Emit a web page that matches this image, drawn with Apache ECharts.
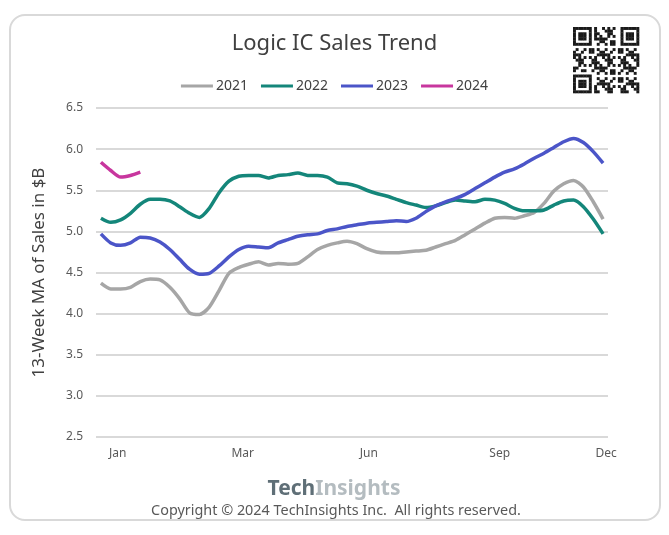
<!DOCTYPE html>
<html><head><meta charset="utf-8">
<script src="https://cdn.jsdelivr.net/npm/echarts@6/dist/echarts.min.js"></script>
<style>html,body{margin:0;padding:0;background:#fff}#c{width:669px;height:535px}</style>
</head><body><div id="c"></div>
<script>
// ---- data (weekly 13-week moving average, $B) ----
const weeks = Array.from({length: 52}, (_, i) => i); // week index 0..51
const monthLabels = ['Jan', 'Mar', 'Jun', 'Sep', 'Dec'];
const monthTickPos = [1.7, 14.4, 27.2, 40.5, 51.3];
const yTicks = [2.5, 3.0, 3.5, 4.0, 4.5, 5.0, 5.5, 6.0, 6.5];

const s2021 = [4.37,4.30,4.30,4.32,4.39,4.42,4.41,4.32,4.18,4.01,3.99,4.08,4.28,4.49,4.56,4.60,4.63,4.59,4.61,4.60,4.61,4.69,4.78,4.83,4.86,4.88,4.85,4.79,4.75,4.74,4.74,4.75,4.76,4.77,4.81,4.85,4.89,4.96,5.03,5.10,5.16,5.17,5.16,5.19,5.23,5.34,5.49,5.58,5.62,5.54,5.36,5.15];
const s2022 = [5.16,5.11,5.14,5.22,5.33,5.39,5.39,5.37,5.30,5.22,5.17,5.28,5.47,5.61,5.67,5.68,5.68,5.65,5.68,5.69,5.71,5.68,5.68,5.66,5.59,5.58,5.55,5.50,5.46,5.43,5.39,5.35,5.32,5.29,5.31,5.35,5.38,5.37,5.36,5.39,5.38,5.34,5.28,5.25,5.25,5.26,5.32,5.37,5.38,5.30,5.15,4.97];
const s2023 = [4.97,4.86,4.83,4.86,4.93,4.92,4.87,4.78,4.66,4.54,4.48,4.49,4.58,4.69,4.78,4.82,4.81,4.80,4.86,4.90,4.94,4.96,4.97,5.01,5.03,5.06,5.08,5.10,5.11,5.12,5.13,5.12,5.16,5.24,5.31,5.36,5.40,5.45,5.52,5.59,5.66,5.72,5.76,5.82,5.89,5.95,6.02,6.09,6.13,6.08,5.97,5.83];
const s2024 = [5.84,5.74,5.66,5.68,5.72];

const seriesNames = ['2021', '2022', '2023', '2024'];
const seriesColors = ['#a6a6a6', '#14867a', '#4b55c8', '#c8369e'];
const seriesData = [s2021, s2022, s2023, s2024];

// ---- decorative QR-like mark ----
function qrRects(x0, y0, n, size) {
  const m = size / n, out = [];
  const finder = (r, c, fr, fc) => {
    const dr = r - fr, dc = c - fc;
    if (dr < 0 || dr > 6 || dc < 0 || dc > 6) return null;
    if (dr === 0 || dr === 6 || dc === 0 || dc === 6) return 1;
    if (dr >= 2 && dr <= 4 && dc >= 2 && dc <= 4) return 1;
    return 0;
  };
  for (let r = 0; r < n; r++) for (let c = 0; c < n; c++) {
    let v = finder(r, c, 0, 0);
    if (v === null) v = finder(r, c, 0, n - 7);
    if (v === null) v = finder(r, c, n - 7, 0);
    if (v === null) {
      if ((r === 7 && c < 8) || (c === 7 && r < 8) || (r === 7 && c >= n - 8) || (c === n - 8 && r < 8) || (r === n - 8 && c < 8) || (c === 7 && r >= n - 8)) v = 0;
      else v = ((r * 31 + c * 17 + r * c * 7) % 11) < 5 ? 1 : 0;
    }
    if (v) out.push({type: 'rect', shape: {x: x0 + c * m, y: y0 + r * m, width: m + 0.3, height: m + 0.3}, style: {fill: '#1a1a1a'}, silent: true});
  }
  return out;
}

const chart = echarts.init(document.getElementById('c'), null, {renderer: 'canvas'});
const fontMain = '"Noto Sans", "Open Sans", sans-serif';

chart.setOption({
  backgroundColor: '#ffffff',
  animation: false,
  textStyle: {fontFamily: fontMain},
  title: [
    {text: 'Logic IC Sales Trend', left: 'center', top: 28, textStyle: {fontSize: 22, fontWeight: 'normal', color: '#404040', fontFamily: fontMain}},
    {text: '{a|Tech}{b|Insights}', left: 329, textAlign: 'center', top: 474,
      textStyle: {rich: {a: {fontSize: 21, fontWeight: 'bold', color: '#5f6f77', fontFamily: fontMain}, b: {fontSize: 21, fontWeight: 'bold', color: '#b4bcc0', fontFamily: fontMain}}}},
    {text: 'Copyright © 2024 TechInsights Inc.  All rights reserved.', left: 331, textAlign: 'center', top: 499,
      textStyle: {fontSize: 14.4, fontWeight: 'normal', color: '#595959', fontFamily: fontMain}}
  ],
  legend: {
    top: 74, left: 'center', itemWidth: 32, itemHeight: 3, itemGap: 13,
    icon: 'rect',
    textStyle: {fontSize: 14, color: '#404040', padding: [0, 0, 0, -2]},
    data: seriesNames
  },
  grid: {left: 96, right: 61, top: 108, bottom: 98},
  xAxis: {
    type: 'value', min: -0.5, max: 51.5,
    axisLine: {show: false}, axisTick: {show: false}, splitLine: {show: false},
    axisLabel: {
      customValues: monthTickPos, margin: 11, color: '#595959', fontSize: 12,
      formatter: v => { const k = monthTickPos.indexOf(v); return k >= 0 ? monthLabels[k] : ''; }
    }
  },
  yAxis: {
    type: 'value', min: yTicks[0], max: yTicks[yTicks.length - 1], interval: 0.5,
    name: '13-Week MA of Sales in $B', nameLocation: 'middle', nameGap: 48, nameRotate: 90,
    nameTextStyle: {fontSize: 17, color: '#404040'},
    axisLine: {show: false}, axisTick: {show: false},
    axisLabel: {margin: 13, color: '#595959', fontSize: 12, formatter: v => v.toFixed(1)},
    splitLine: {lineStyle: {color: '#d9d9d9', width: 2}}
  },
  series: seriesData.map((d, k) => ({
    name: seriesNames[k], type: 'line', smooth: 0.25, symbol: 'none',
    data: d.map((v, i) => [weeks[i], v]),
    lineStyle: {width: 3.5, color: seriesColors[k]}, itemStyle: {color: seriesColors[k]}
  })),
  graphic: [
    {type: 'rect', shape: {x: 10, y: 15, width: 650, height: 505, r: 15}, style: {fill: 'none', stroke: '#d9d9d9', lineWidth: 2}, silent: true, z: -1},
    {type: 'group', children: qrRects(573, 27, 25, 66)}
  ]
});
</script></body></html>
